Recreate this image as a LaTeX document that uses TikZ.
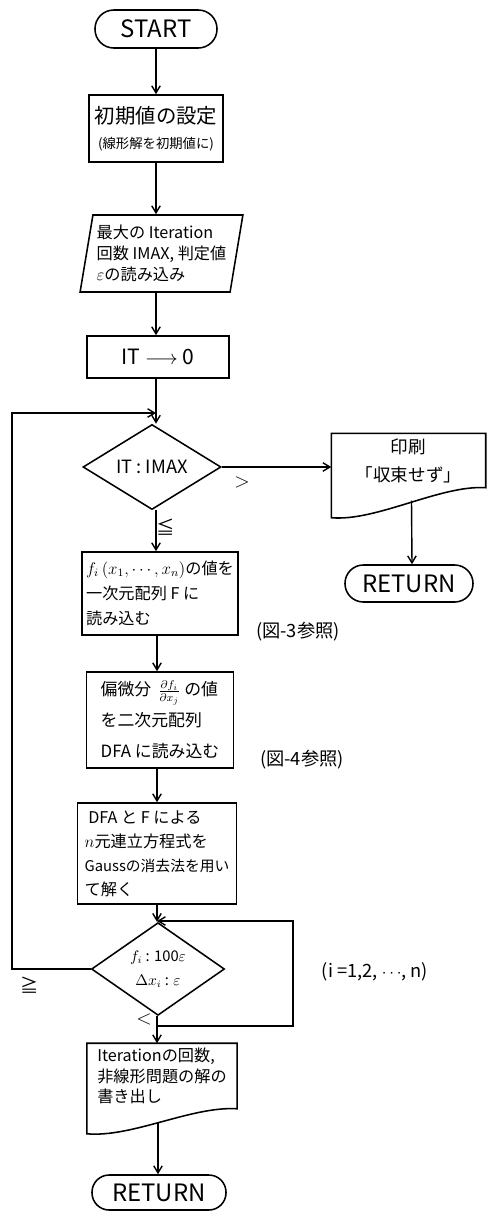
\documentclass[tikz,border=0pt]{standalone}
\usepackage{fontspec}
\setmainfont{Noto Sans CJK JP}
\usetikzlibrary{arrows.meta,shapes.geometric,calc}
\tikzset{pin/.style={-{Straight Barb[length=5pt,width=6pt]}},
  blk/.style={draw, line width=1.1pt, inner sep=3pt, align=left, font=\fontsize{11.5}{18}\selectfont},
  term/.style={draw, line width=1.1pt, inner sep=0pt, font=\fontsize{17}{19}\selectfont},
  dec/.style={draw, line width=1.1pt, diamond, inner sep=0pt, align=center},
  doc/.style={inner sep=3pt, align=left, font=\fontsize{11.5}{14.5}\selectfont},
  lbl/.style={inner sep=1pt, font=\fontsize{13}{15}\selectfont}}

\begin{document}
\begin{tikzpicture}[x=0.025cm, y=-0.025cm, line width=1pt]
  \useasboundingbox (0,0) rectangle (487,1211);
  % main column
  \node[term, rounded corners=4.7mm, minimum width=3.05cm, minimum height=0.95cm] (start) at (156,29) {START};
  \node[blk, align=center, minimum width=3.35cm, minimum height=1.675cm] (init) at (156,128.5)
    {{\fontsize{14.5}{19}\selectfont 初期値の設定}\\{\fontsize{9.5}{12}\selectfont (線形解を初期値に)}};
  \node[blk, trapezium, trapezium left angle=78, trapezium right angle=102, trapezium stretches=true,
    inner sep=0pt, font=\fontsize{11.5}{15}\selectfont, minimum width=4.075cm, minimum height=1.925cm] (inp) at (161.5,253.5)
    {最大の Iteration\\回数 IMAX, 判定値\\$\varepsilon$の読み込み};
  \node[blk, font=\fontsize{15}{17}\selectfont, minimum width=3.55cm, minimum height=1.05cm] (it0) at (158,357) {IT $\longrightarrow$ 0};
  \coordinate (jn) at (156,413);
  \node[dec, font=\fontsize{13}{15}\selectfont, minimum width=3.45cm, minimum height=1.75cm] (d1) at (152,467) {IT : IMAX};
  \node[blk, minimum width=3.65cm, minimum height=2.075cm] (fi) at (160,593.5)
    {$f_i\,(x_1,\cdots,x_n)$の値を\\一次元配列 F に\\読み込む};
  \node[blk, font=\fontsize{12}{22}\selectfont, minimum width=3.675cm, minimum height=2.4cm] (pd) at (160,720)
    {偏微分\ \,$\frac{\partial f_i}{\partial x_j}$\ の値\\を二次元配列\\DFA に読み込む};
  \node[blk, font=\fontsize{11.5}{17}\selectfont, minimum width=3.975cm, minimum height=2.525cm] (solve) at (157,853.5)
    {\ DFA と F による\\$n$元連立方程式を\\{\fontsize{10.5}{12}\selectfont Gaussの消去法を用い}\\て解く};
  \coordinate (jn2) at (157,921);
  \node[dec, font=\fontsize{10.5}{17}\selectfont, minimum width=3.325cm, minimum height=1.55cm] (d2) at (158,969)
    {$f_i$ : 100$\varepsilon$\\$\Delta x_i$ : $\varepsilon$};
  \coordinate (brk) at (157,1026);
  \coordinate (rgt) at (293,1026);
  \coordinate (lft) at (12,969);
  \node[doc, minimum width=3.725cm, minimum height=1.45cm] (out) at (162,1076)
    {Iterationの回数,\\非線形問題の解の\\書き出し};
  \node[term, rounded corners=4.3mm, minimum width=3.35cm, minimum height=0.875cm] (ret) at (159,1192.5) {RETURN};
  % right branch
  \node[doc, align=center, font=\fontsize{12.5}{20}\selectfont, minimum width=3.825cm, minimum height=1.325cm] (prt) at (408.5,460.5)
    {印刷\\「収束せず」};
  \node[term, rounded corners=4.6mm, minimum width=3.2cm, minimum height=0.925cm] (ret2) at (409,583.5) {RETURN};
  % document outlines
  \draw[line width=1.1pt] (out.south east) .. controls +(-45,-3) and +(45,4) .. ($(out.south west)+(0,25)$)
    -- (out.north west) -- (out.north east) -- cycle;
  \draw[line width=1.1pt] (prt.south east) .. controls +(-45,-3) and +(45,4) .. ($(prt.south west)+(0,30)$)
    -- (prt.north west) -- (prt.north east) -- cycle;
  % connectors
  \draw[pin] (start) -- (init);
  \draw[pin] (init.south) -- (init.south |- inp.north);
  \draw[pin] (init.south |- inp.south) -- (init.south |- it0.north);
  \draw[pin] (init.south |- it0.south) -- (init.south |- d1.north);
  \draw[pin] (d2.west) -- (lft) |- (jn);
  \draw[pin] (d1.east) -- (d1.east -| prt.west);
  \draw[pin] (jn |- d1.south) -- (jn |- fi.north);
  \draw[pin] (fi.south -| jn2) -- (pd.north -| jn2);
  \draw[pin] (pd.south -| jn2) -- (solve.north -| jn2);
  \draw[pin] (solve.south -| jn2) -- (d2.north -| jn2);
  \draw[pin] (brk) -- (rgt) |- (jn2);
  \draw[pin] (d2.south -| jn2) -- (out.north -| jn2);
  \draw[pin] ($(out.south)+(-4,14)$) -- ($(ret.north)+(-1,0)$);
  \draw[pin] ($(prt.south)+(3,13)$) -- ($(ret2.north)+(3,0)$);
  % labels
  \node[lbl, font=\fontsize{14}{16}\selectfont] (gt) at (242,482) {$>$};
  \node[lbl] (le) at (166,527) {≦};
  \node[lbl] (ref3) at (298,632) {(図-3参照)};
  \node[lbl] (ref4) at (302,760) {(図-4参照)};
  \node[lbl] (ge) at (30,985) {≧};
  \node[lbl, font=\fontsize{14}{16}\selectfont] (lt) at (144,1019) {$<$};
  \node[lbl] (rng) at (375,972) {(i =1,2, $\cdots$, n)};
\end{tikzpicture}
\end{document}
